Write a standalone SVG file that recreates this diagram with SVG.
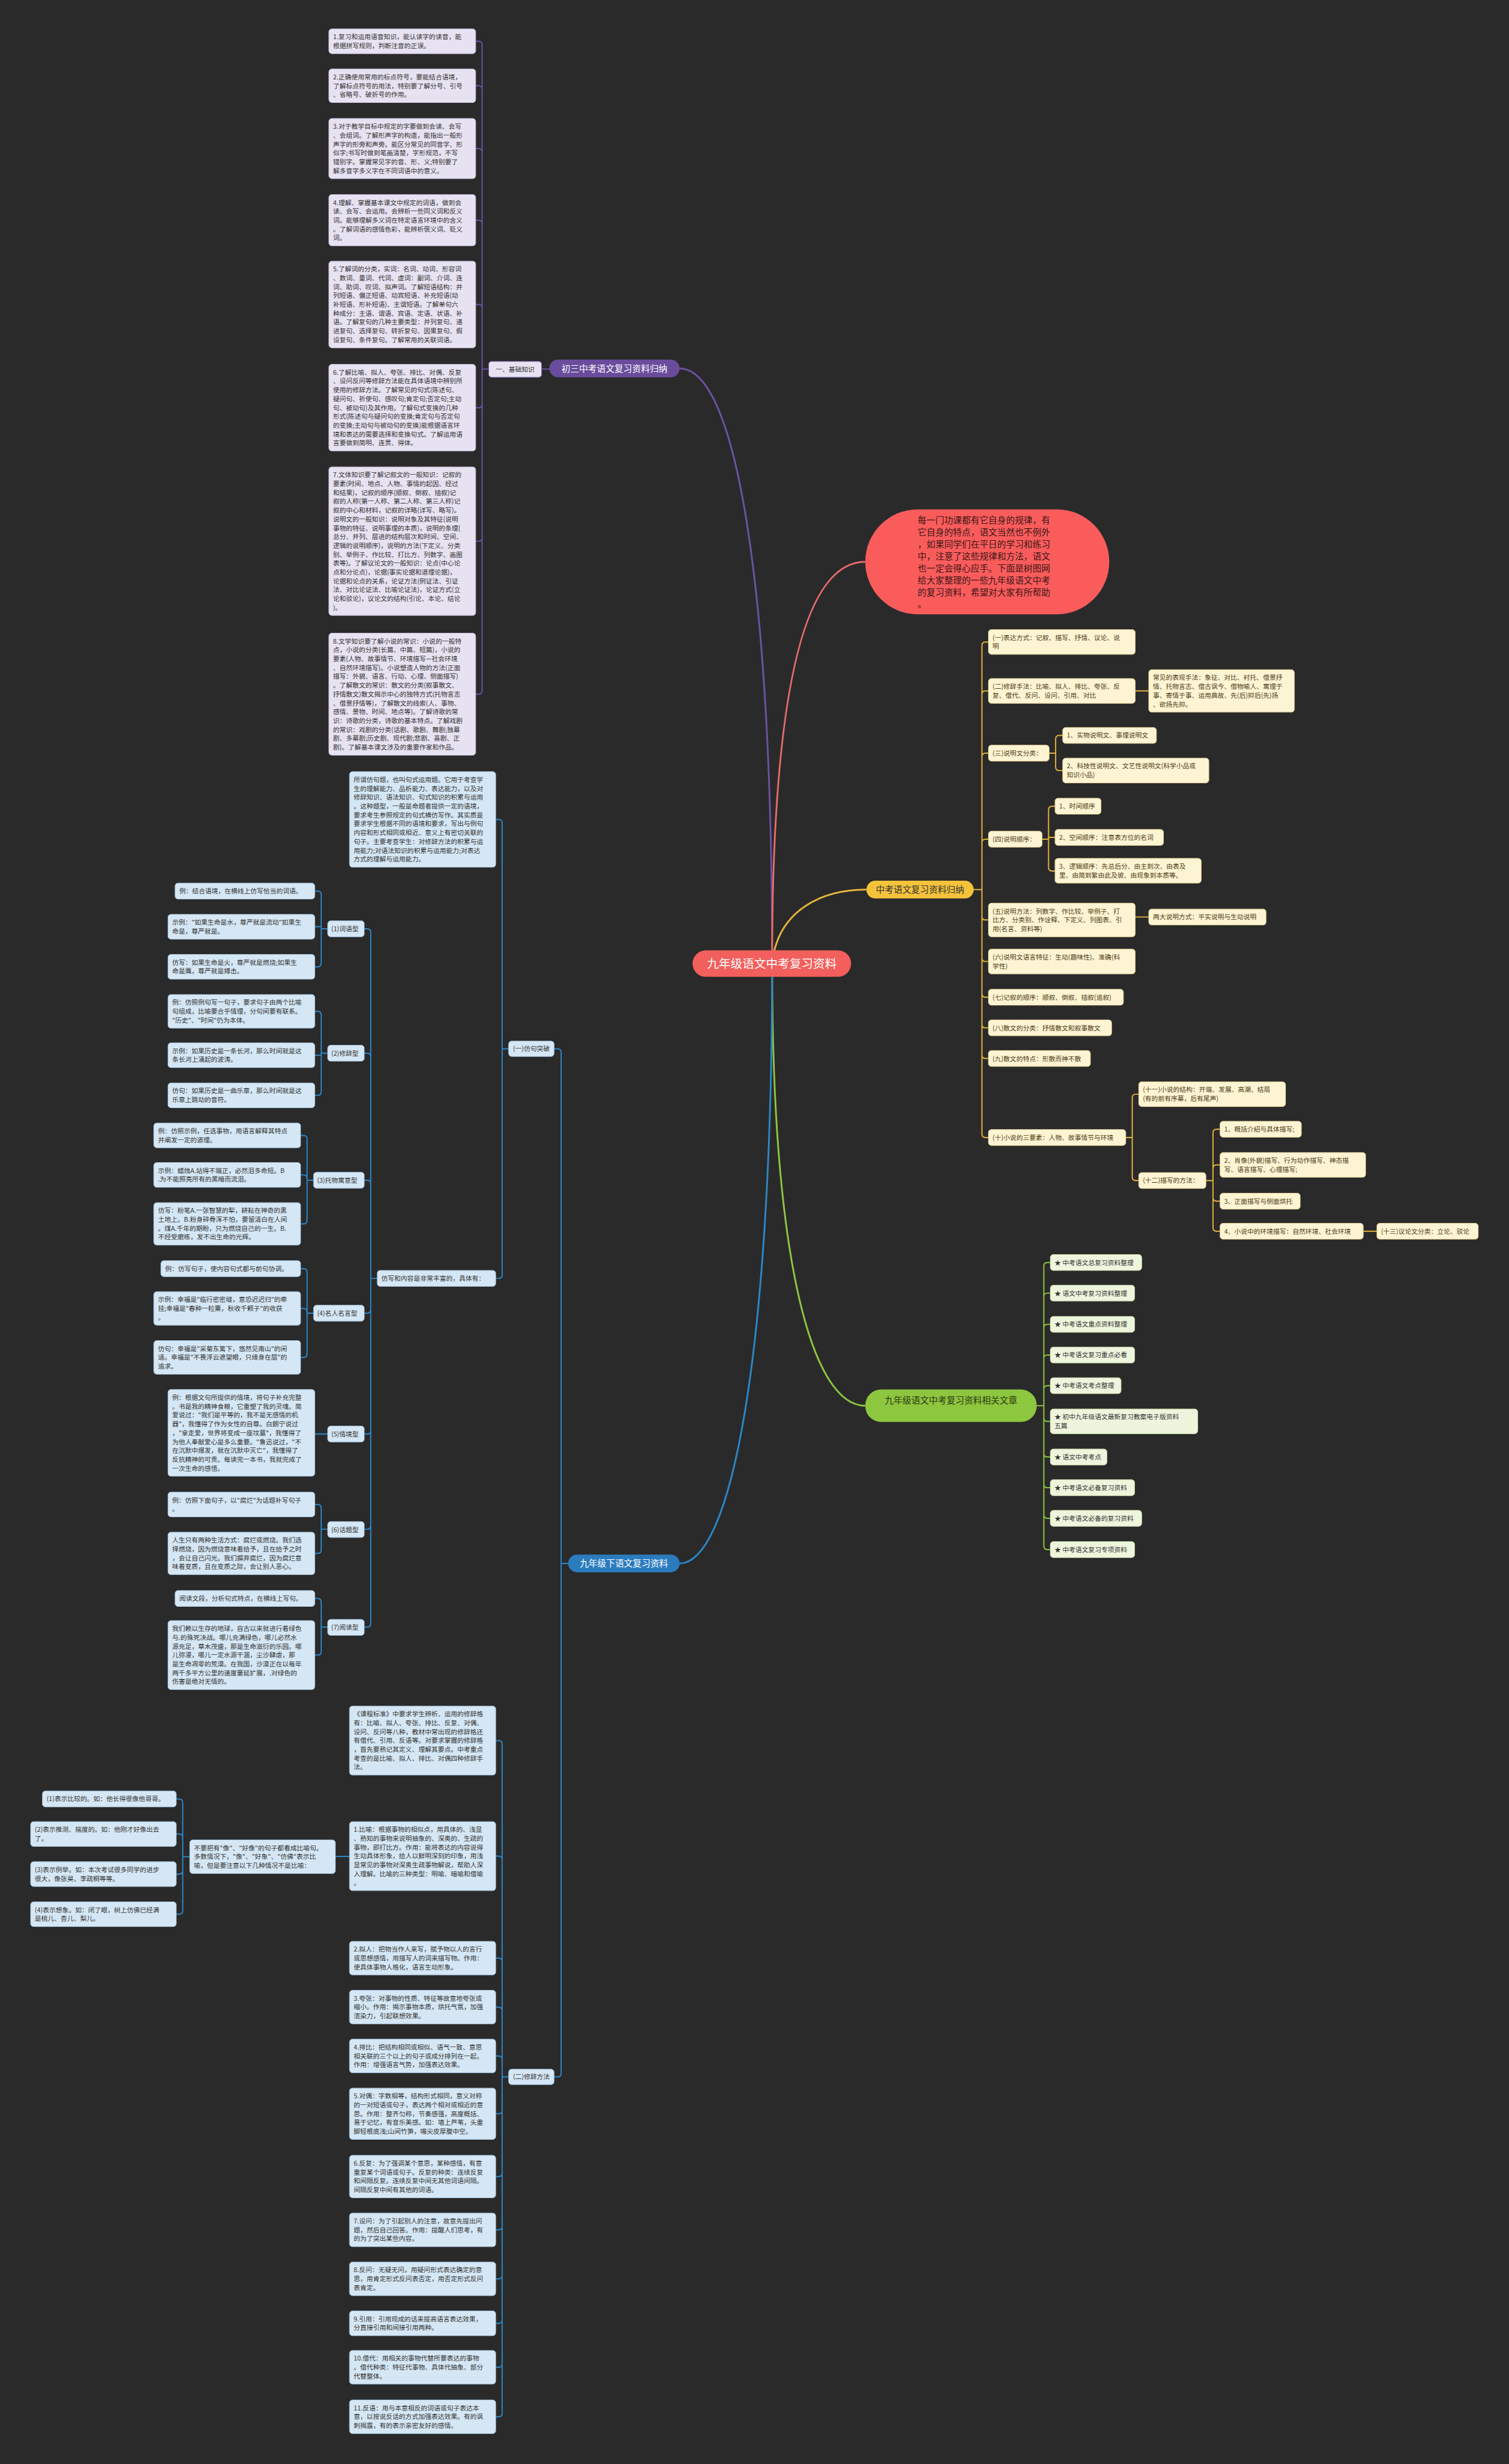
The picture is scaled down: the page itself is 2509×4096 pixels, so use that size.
<svg xmlns="http://www.w3.org/2000/svg" width="2509" height="4096" viewBox="0 0 2509 4096">
<style>
.t{font-family:"Noto Sans CJK SC","Noto Sans",sans-serif;font-size:11px;fill:#333}
.ty{font-family:"Noto Sans CJK SC","Noto Sans",sans-serif;font-size:11px;fill:#4d3d12}
.m{font-family:"Noto Sans CJK SC","Noto Sans",sans-serif;font-size:15px;text-anchor:middle}
.bp{fill:#e7e2f1;stroke:#c9bfe0;stroke-width:1}
.by{fill:#fdf4d3;stroke:#e6d59a;stroke-width:1}
.bg{fill:#eef5dd;stroke:#cfe0ad;stroke-width:1}
.bb{fill:#d5e7f5;stroke:#a6c8e4;stroke-width:1}
.c{fill:none;stroke-width:2;stroke-linecap:round}
.cp{stroke:#6b52a3}.cy{stroke:#e6b43c}.cg{stroke:#8cc63f}.cb{stroke:#2c87c8}.cr{stroke:#e86b6b}
.main{fill:none;stroke-width:3}
</style>
<rect width="2509" height="4096" fill="#2a2a2a"/>
<g transform="scale(0.98)">
<g id="connectors">
<path class="main cp" d="M1310,1634 C1310,1000 1250,625 1153,625"/>
<path class="main cr" d="M1310,1634 C1310,1150 1370,953 1468,953"/>
<path class="main cy" d="M1310,1634 C1320,1540 1400,1509 1470,1509"/>
<path class="main cg" d="M1310,1634 C1310,2150 1380,2384.5 1468,2384.5"/>
<path class="main cb" d="M1310,1634 C1310,2300 1240,2652 1153,2652"/>
<path class="c cp" d="M919,626 H932 M829,626 H818 M818,76 V1171.5 M818,76 Q818,70 812,70 H807 M818,151.5 Q818,145.5 812,145.5 H807 M818,258 Q818,252 812,252 H807 M818,379.5 Q818,373.5 812,373.5 H807 M818,522.5 Q818,516.5 812,516.5 H807 M818,685.5 Q818,691.5 812,691.5 H807 M818,912 Q818,918 812,918 H807 M818,1171.5 Q818,1177.5 812,1177.5 H807"/>
<path class="c cy" d="M1652,1509 H1666 M1666,1095 V1923.5 M1666,1095 Q1666,1089 1672,1089 H1677 M1666,1178 Q1666,1172 1672,1172 H1677 M1666,1283.5 Q1666,1277.5 1672,1277.5 H1677 M1666,1429.5 Q1666,1423.5 1672,1423.5 H1677 M1666,1554.5 Q1666,1560.5 1672,1560.5 H1677 M1666,1625 Q1666,1631 1672,1631 H1677 M1666,1685.5 Q1666,1691.5 1672,1691.5 H1677 M1666,1737.5 Q1666,1743.5 1672,1743.5 H1677 M1666,1789.5 Q1666,1795.5 1672,1795.5 H1677 M1666,1923.5 Q1666,1929.5 1672,1929.5 H1677"/>
<path class="c cy" d="M1926,1172 H1949 M1780,1277.5 H1791 M1791,1253.5 V1301 M1791,1253.5 Q1791,1247.5 1797,1247.5 H1803 M1791,1301 Q1791,1307 1797,1307 H1803 M1768,1423.5 H1779 M1779,1373.5 V1471.5 M1779,1373.5 Q1779,1367.5 1785,1367.5 H1790 M1779,1420.5 H1790 M1779,1471.5 Q1779,1477.5 1785,1477.5 H1790 M1926,1555.5 H1949 M1910,1929.5 H1921 M1921,1862 V1996.5 M1921,1862 Q1921,1856 1927,1856 H1932 M1921,1996.5 Q1921,2002.5 1927,2002.5 H1932 M2046,2002.5 H2058 M2058,1921.5 V2082.5 M2058,1921.5 Q2058,1915.5 2064,1915.5 H2070 M2058,1982 Q2058,1976 2064,1976 H2070 M2058,2031.5 Q2058,2037.5 2064,2037.5 H2070 M2058,2082.5 Q2058,2088.5 2064,2088.5 H2070 M2313,2088.5 H2336"/>
<path class="c cg" d="M1759,2384.5 H1771 M1771,2147.5 V2622.5 M1771,2147.5 Q1771,2141.5 1777,2141.5 H1782 M1771,2199.5 Q1771,2193.5 1777,2193.5 H1782 M1771,2252.5 Q1771,2246.5 1777,2246.5 H1782 M1771,2304.5 Q1771,2298.5 1777,2298.5 H1782 M1771,2356.5 Q1771,2350.5 1777,2350.5 H1782 M1771,2405 Q1771,2411 1777,2411 H1782 M1771,2465.5 Q1771,2471.5 1777,2471.5 H1782 M1771,2517.5 Q1771,2523.5 1777,2523.5 H1782 M1771,2569.5 Q1771,2575.5 1777,2575.5 H1782 M1771,2622.5 Q1771,2628.5 1777,2628.5 H1782"/>
<path class="c cb" d="M964,2652 H952 M952,1785 V3517 M952,1785 Q952,1779 946,1779 H940 M952,3517 Q952,3523 946,3523 H940"/>
<path class="c cb" d="M863,1779 H852 M852,1396 V2162.5 M852,1396 Q852,1390 846,1390 H841 M852,2162.5 Q852,2168.5 846,2168.5 H841"/>
<path class="c cb" d="M640,2168.5 H629 M629,1581.5 V2754 M629,1581.5 Q629,1575.5 623,1575.5 H618 M629,1792.5 Q629,1786.5 623,1786.5 H618 M629,2008 Q629,2002 623,2002 H618 M629,2221.5 Q629,2227.5 623,2227.5 H618 M629,2426.5 Q629,2432.5 623,2432.5 H618 M629,2588 Q629,2594 623,2594 H618 M629,2754 Q629,2760 623,2760 H618"/>
<path class="c cb" d="M556,1575.5 H545 M545,1517.5 V1634 M545,1517.5 Q545,1511.5 539,1511.5 H534 M545,1572 H534 M545,1634 Q545,1640 539,1640 H534 M556,1786.5 H545 M545,1721.5 V1852 M545,1721.5 Q545,1715.5 539,1715.5 H534 M545,1790 H534 M545,1852 Q545,1858 539,1858 H534"/>
<path class="c cb" d="M532,2002 H521 M521,1932 V2070 M521,1932 Q521,1926 515,1926 H510 M521,1999 Q521,1993 515,1993 H510 M521,2070 Q521,2076 515,2076 H510 M532,2227.5 H521 M521,2158 V2296.5 M521,2158 Q521,2152 515,2152 H510 M521,2225.5 Q521,2219.5 515,2219.5 H510 M521,2296.5 Q521,2302.5 515,2302.5 H510"/>
<path class="c cb" d="M556,2432.5 H534 M556,2594 H545 M545,2558 V2629 M545,2558 Q545,2552 539,2552 H534 M545,2629 Q545,2635 539,2635 H534 M556,2760 H545 M545,2717.5 V2801.5 M545,2717.5 Q545,2711.5 539,2711.5 H534 M545,2801.5 Q545,2807.5 539,2807.5 H534"/>
<path class="c cb" d="M863,3523 H852 M852,2958.5 V4093.5 M852,2958.5 Q852,2952.5 846,2952.5 H841 M852,3154.5 Q852,3148.5 846,3148.5 H841 M852,3327.5 Q852,3321.5 846,3321.5 H841 M852,3410.5 Q852,3404.5 846,3404.5 H841 M852,3493.5 Q852,3487.5 846,3487.5 H841 M852,3579.5 Q852,3585.5 846,3585.5 H841 M852,3686 Q852,3692 846,3692 H841 M852,3776.5 Q852,3782.5 846,3782.5 H841 M852,3859.5 Q852,3865.5 846,3865.5 H841 M852,3935 Q852,3941 846,3941 H841 M852,4009.5 Q852,4015.5 846,4015.5 H841 M852,4093.5 Q852,4099.5 846,4099.5 H841"/>
<path class="c cb" d="M593,3149 H569 M322,3149.5 H310 M310,3057.5 V3241 M310,3057.5 Q310,3051.5 304,3051.5 H299 M310,3117 Q310,3111 304,3111 H299 M310,3173 Q310,3179 304,3179 H299 M310,3241 Q310,3247 304,3247 H299"/>
</g>

<g id="root"><rect x="1175" y="1612" width="269" height="45" rx="22.5" fill="#f25f5c"/><text class="m" x="1309.5" y="1641.5" style="font-size:20px;fill:#fff">九年级语文中考复习资料</text></g>
<g id="intro"><rect x="1468" y="864" width="414" height="178" rx="89" fill="#fa5c5c"/><text x="1557" y="888" style="font-family:'Noto Sans CJK SC',sans-serif;font-size:15px;fill:#3a1616"><tspan x="1557">每一门功课都有它自身的规律，有</tspan><tspan x="1557" dy="20.3">它自身的特点，语文当然也不例外</tspan><tspan x="1557" dy="20.3">，如果同学们在平日的学习和练习</tspan><tspan x="1557" dy="20.3">中，注意了这些规律和方法，语文</tspan><tspan x="1557" dy="20.3">也一定会得心应手。下面是树图网</tspan><tspan x="1557" dy="20.3">给大家整理的一些九年级语文中考</tspan><tspan x="1557" dy="20.3">的复习资料，希望对大家有所帮助</tspan><tspan x="1557" dy="20.3">。</tspan></text></g>

<g id="purple-main"><rect x="932" y="610" width="221" height="30" rx="15" fill="#6a4c9c"/><text class="m" x="1042.5" y="630.5" style="fill:#fff">初三中考语文复习资料归纳</text></g>
<g id="p-basic"><rect class="bp" x="829" y="613" width="90" height="27" rx="5" style="stroke:#6b52a3"/><text class="t" x="874" y="630.5" text-anchor="middle">一、基础知识</text></g>
<g id="p1"><rect class="bp" x="558" y="49" width="249" height="42" rx="5"/><text class="t" x="565" y="66.5"><tspan x="565">1.复习和运用语音知识，能认读字的读音，能</tspan><tspan x="565" dy="15">根据拼写规则，判断注音的正误。</tspan></text></g>
<g id="p2"><rect class="bp" x="558" y="117" width="249" height="57" rx="5"/><text class="t" x="565" y="134.5"><tspan x="565">2.正确使用常用的标点符号，要能结合语境，</tspan><tspan x="565" dy="15">了解标点符号的用法，特别要了解分号、引号</tspan><tspan x="565" dy="15">、省略号、破折号的作用。</tspan></text></g>
<g id="p3"><rect class="bp" x="558" y="201" width="249" height="102" rx="5"/><text class="t" x="565" y="218.5"><tspan x="565">3.对于教学目标中规定的字要做到会读、会写</tspan><tspan x="565" dy="15">、会组词。了解形声字的构造，能指出一般形</tspan><tspan x="565" dy="15">声字的形旁和声旁。能区分常见的同音字、形</tspan><tspan x="565" dy="15">似字;书写时做到笔画清楚，字形规范，不写</tspan><tspan x="565" dy="15">错别字。掌握常见字的音、形、义;特别要了</tspan><tspan x="565" dy="15">解多音字多义字在不同词语中的意义。</tspan></text></g>
<g id="p4"><rect class="bp" x="558" y="330" width="249" height="87" rx="5"/><text class="t" x="565" y="347.5"><tspan x="565">4.理解、掌握基本课文中规定的词语，做到会</tspan><tspan x="565" dy="15">读、会写、会运用。会辨析一些同义词和反义</tspan><tspan x="565" dy="15">词。能够理解多义词在特定语言环境中的含义</tspan><tspan x="565" dy="15">。了解词语的感情色彩，能辨析褒义词、贬义</tspan><tspan x="565" dy="15">词。</tspan></text></g>
<g id="p5"><rect class="bp" x="558" y="443" width="249" height="147" rx="5"/><text class="t" x="565" y="460.5"><tspan x="565">5.了解词的分类，实词：名词、动词、形容词</tspan><tspan x="565" dy="15">、数词、量词、代词、虚词：副词、介词、连</tspan><tspan x="565" dy="15">词、助词、叹词、拟声词。了解短语结构：并</tspan><tspan x="565" dy="15">列短语、偏正短语、动宾短语、补充短语(动</tspan><tspan x="565" dy="15">补短语、形补短语)、主谓短语。了解单句六</tspan><tspan x="565" dy="15">种成分：主语、谓语、宾语、定语、状语、补</tspan><tspan x="565" dy="15">语。了解复句的几种主要类型：并列复句、递</tspan><tspan x="565" dy="15">进复句、选择复句、转折复句、因果复句、假</tspan><tspan x="565" dy="15">设复句、条件复句。了解常用的关联词语。</tspan></text></g>
<g id="p6"><rect class="bp" x="558" y="618" width="249" height="147" rx="5"/><text class="t" x="565" y="635.5"><tspan x="565">6.了解比喻、拟人、夸张、排比、对偶、反复</tspan><tspan x="565" dy="15">、设问反问等修辞方法能在具体语境中辨别所</tspan><tspan x="565" dy="15">使用的修辞方法。了解常见的句式(陈述句、</tspan><tspan x="565" dy="15">疑问句、祈使句、感叹句;肯定句;否定句;主动</tspan><tspan x="565" dy="15">句、被动句)及其作用。了解句式变换的几种</tspan><tspan x="565" dy="15">形式(陈述句与疑问句的变换;肯定句与否定句</tspan><tspan x="565" dy="15">的变换;主动句与被动句的变换)能根据语言环</tspan><tspan x="565" dy="15">境和表达的需要选择和变换句式。了解运用语</tspan><tspan x="565" dy="15">言要做到简明、连贯、得体。</tspan></text></g>
<g id="p7"><rect class="bp" x="558" y="792" width="249" height="252" rx="5"/><text class="t" x="565" y="809.5"><tspan x="565">7.文体知识要了解记叙文的一般知识：记叙的</tspan><tspan x="565" dy="15">要素(时间、地点、人物、事情的起因、经过</tspan><tspan x="565" dy="15">和结果)，记叙的顺序(顺叙、倒叙、插叙)记</tspan><tspan x="565" dy="15">叙的人称(第一人称、第二人称、第三人称)记</tspan><tspan x="565" dy="15">叙的中心和材料，记叙的详略(详写、略写)。</tspan><tspan x="565" dy="15">说明文的一般知识：说明对象及其特征(说明</tspan><tspan x="565" dy="15">事物的特征、说明事理的本质)，说明的条理(</tspan><tspan x="565" dy="15">总分、并列、层进的结构层次和时间、空间、</tspan><tspan x="565" dy="15">逻辑的说明顺序)，说明的方法(下定义、分类</tspan><tspan x="565" dy="15">别、举例子、作比较、打比方、列数字、画图</tspan><tspan x="565" dy="15">表等)。了解议论文的一般知识：论点(中心论</tspan><tspan x="565" dy="15">点和分论点)，论据(事实论据和道理论据)，</tspan><tspan x="565" dy="15">论据和论点的关系，论证方法(例证法、引证</tspan><tspan x="565" dy="15">法、对比论证法、比喻论证法)，论证方式(立</tspan><tspan x="565" dy="15">论和驳论)，议论文的结构(引论、本论、结论</tspan><tspan x="565" dy="15">)。</tspan></text></g>
<g id="p8"><rect class="bp" x="558" y="1074" width="249" height="207" rx="5"/><text class="t" x="565" y="1091.5"><tspan x="565">8.文学知识要了解小说的常识：小说的一般特</tspan><tspan x="565" dy="15">点，小说的分类(长篇、中篇、短篇)，小说的</tspan><tspan x="565" dy="15">要素(人物、故事情节、环境描写—社会环境</tspan><tspan x="565" dy="15">、自然环境描写)。小说塑造人物的方法(正面</tspan><tspan x="565" dy="15">描写：外貌、语言、行动、心理、侧面描写)</tspan><tspan x="565" dy="15">。了解散文的常识：散文的分类(叙事散文、</tspan><tspan x="565" dy="15">抒情散文)散文揭示中心的独特方式(托物言志</tspan><tspan x="565" dy="15">、借景抒情等)，了解散文的线索(人、事物、</tspan><tspan x="565" dy="15">感情、景物、时间、地点等)。了解诗歌的常</tspan><tspan x="565" dy="15">识：诗歌的分类，诗歌的基本特点。了解戏剧</tspan><tspan x="565" dy="15">的常识：戏剧的分类(话剧、歌剧、舞剧;独幕</tspan><tspan x="565" dy="15">剧、多幕剧;历史剧、现代剧;悲剧、喜剧、正</tspan><tspan x="565" dy="15">剧)。了解基本课文涉及的重要作家和作品。</tspan></text></g>

<g id="yellow-main"><rect x="1470" y="1494" width="182" height="30" rx="15" fill="#f5c33b"/><text class="m" x="1561" y="1514.5" style="fill:#333">中考语文复习资料归纳</text></g>
<g id="y1"><rect class="by" x="1677" y="1068" width="249" height="42" rx="5"/><text class="ty" x="1684" y="1085.5"><tspan x="1684">(一)表达方式：记叙、描写、抒情、议论、说</tspan><tspan x="1684" dy="15">明</tspan></text></g>
<g id="y2"><rect class="by" x="1677" y="1151" width="249" height="42" rx="5"/><text class="ty" x="1684" y="1168.5"><tspan x="1684">(二)修辞手法：比喻、拟人、排比、夸张、反</tspan><tspan x="1684" dy="15">复、借代、反问、设问、引用、对比</tspan></text></g>
<g id="y2a"><rect class="by" x="1949" y="1136" width="247" height="72" rx="5"/><text class="ty" x="1956" y="1153.5"><tspan x="1956">常见的表现手法：象征、对比、衬托、借景抒</tspan><tspan x="1956" dy="15">情、托物言志、借古讽今、借物喻人、寓理于</tspan><tspan x="1956" dy="15">事、寄情于事、运用典故、先(后)抑后(先)扬</tspan><tspan x="1956" dy="15">、欲扬先抑。</tspan></text></g>
<g id="y3"><rect class="by" x="1677" y="1264" width="103" height="27" rx="5"/><text class="ty" x="1684" y="1281.5">(三)说明文分类：</text></g>
<g id="y3a"><rect class="by" x="1803" y="1234" width="159" height="27" rx="5"/><text class="ty" x="1810" y="1251.5">1、实物说明文、事理说明文</text></g>
<g id="y3b"><rect class="by" x="1803" y="1286" width="248" height="42" rx="5"/><text class="ty" x="1810" y="1303.5"><tspan x="1810">2、科技性说明文、文艺性说明文(科学小品或</tspan><tspan x="1810" dy="15">知识小品)</tspan></text></g>
<g id="y4"><rect class="by" x="1677" y="1410" width="91" height="27" rx="5"/><text class="ty" x="1684" y="1427.5">(四)说明顺序：</text></g>
<g id="y4a"><rect class="by" x="1790" y="1354" width="78" height="27" rx="5"/><text class="ty" x="1797" y="1371.5">1、时间顺序</text></g>
<g id="y4b"><rect class="by" x="1790" y="1407" width="184" height="27" rx="5"/><text class="ty" x="1797" y="1424.5">2、空间顺序：注意表方位的名词</text></g>
<g id="y4c"><rect class="by" x="1790" y="1456" width="248" height="42" rx="5"/><text class="ty" x="1797" y="1473.5"><tspan x="1797">3、逻辑顺序：先总后分、由主到次、由表及</tspan><tspan x="1797" dy="15">里、由简到繁由此及彼、由现象到本质等。</tspan></text></g>
<g id="y5"><rect class="by" x="1677" y="1532" width="249" height="57" rx="5"/><text class="ty" x="1684" y="1549.5"><tspan x="1684">(五)说明方法：列数字、作比较、举例子、打</tspan><tspan x="1684" dy="15">比方、分类别、作诠释、下定义、列图表、引</tspan><tspan x="1684" dy="15">用(名言、资料等)</tspan></text></g>
<g id="y5a"><rect class="by" x="1949" y="1542" width="199" height="27" rx="5"/><text class="ty" x="1956" y="1559.5">两大说明方式：平实说明与生动说明</text></g>
<g id="y6"><rect class="by" x="1677" y="1610" width="249" height="42" rx="5"/><text class="ty" x="1684" y="1627.5"><tspan x="1684">(六)说明文语言特征：生动(趣味性)、准确(科</tspan><tspan x="1684" dy="15">学性)</tspan></text></g>
<g id="y7"><rect class="by" x="1677" y="1678" width="229" height="27" rx="5"/><text class="ty" x="1684" y="1695.5">(七)记叙的顺序：顺叙、倒叙、插叙(追叙)</text></g>
<g id="y8"><rect class="by" x="1677" y="1730" width="209" height="27" rx="5"/><text class="ty" x="1684" y="1747.5">(八)散文的分类：抒情散文和叙事散文</text></g>
<g id="y9"><rect class="by" x="1677" y="1782" width="173" height="27" rx="5"/><text class="ty" x="1684" y="1799.5">(九)散文的特点：形散而神不散</text></g>
<g id="y10"><rect class="by" x="1677" y="1916" width="233" height="27" rx="5"/><text class="ty" x="1684" y="1933.5">(十)小说的三要素：人物、故事情节与环境</text></g>
<g id="y11"><rect class="by" x="1932" y="1835" width="249" height="42" rx="5"/><text class="ty" x="1939" y="1852.5"><tspan x="1939">(十一)小说的结构：开端、发展、高潮、结局</tspan><tspan x="1939" dy="15">(有的前有序幕，后有尾声)</tspan></text></g>
<g id="y12"><rect class="by" x="1932" y="1989" width="114" height="27" rx="5"/><text class="ty" x="1939" y="2006.5">(十二)描写的方法：</text></g>
<g id="y12a"><rect class="by" x="2070" y="1902" width="138" height="27" rx="5"/><text class="ty" x="2077" y="1919.5">1、概括介绍与具体描写;</text></g>
<g id="y12b"><rect class="by" x="2070" y="1955" width="247" height="42" rx="5"/><text class="ty" x="2077" y="1972.5"><tspan x="2077">2、肖像(外貌)描写、行为动作描写、神态描</tspan><tspan x="2077" dy="15">写、语言描写、心理描写;</tspan></text></g>
<g id="y12c"><rect class="by" x="2070" y="2024" width="136" height="27" rx="5"/><text class="ty" x="2077" y="2041.5">3、正面描写与侧面烘托</text></g>
<g id="y12d"><rect class="by" x="2070" y="2075" width="243" height="27" rx="5"/><text class="ty" x="2077" y="2092.5">4、小说中的环境描写：自然环境、社会环境</text></g>
<g id="y13"><rect class="by" x="2336" y="2075" width="172" height="27" rx="5"/><text class="ty" x="2343" y="2092.5">(十三)议论文分类：立论、驳论</text></g>

<g id="green-main"><rect x="1468" y="2357" width="291" height="55" rx="27" fill="#8dc63f"/><text class="m" x="1613.5" y="2381" style="fill:#2b3a12">九年级语文中考复习资料相关文章</text></g>
<g id="g1"><rect class="bg" x="1782" y="2128" width="155" height="27" rx="5"/><text class="t" x="1789" y="2145.5">★ 中考语文总复习资料整理</text></g>
<g id="g2"><rect class="bg" x="1782" y="2180" width="143" height="27" rx="5"/><text class="t" x="1789" y="2197.5">★ 语文中考复习资料整理</text></g>
<g id="g3"><rect class="bg" x="1782" y="2233" width="143" height="27" rx="5"/><text class="t" x="1789" y="2250.5">★ 中考语文重点资料整理</text></g>
<g id="g4"><rect class="bg" x="1782" y="2285" width="143" height="27" rx="5"/><text class="t" x="1789" y="2302.5">★ 中考语文复习重点必看</text></g>
<g id="g5"><rect class="bg" x="1782" y="2337" width="120" height="27" rx="5"/><text class="t" x="1789" y="2354.5">★ 中考语文考点整理</text></g>
<g id="g6"><rect class="bg" x="1782" y="2390" width="250" height="42" rx="5"/><text class="t" x="1789" y="2407.5"><tspan x="1789">★ 初中九年级语文最新复习教案电子版资料</tspan><tspan x="1789" dy="15">五篇</tspan></text></g>
<g id="g7"><rect class="bg" x="1782" y="2458" width="96" height="27" rx="5"/><text class="t" x="1789" y="2475.5">★ 语文中考考点</text></g>
<g id="g8"><rect class="bg" x="1782" y="2510" width="143" height="27" rx="5"/><text class="t" x="1789" y="2527.5">★ 中考语文必备复习资料</text></g>
<g id="g9"><rect class="bg" x="1782" y="2562" width="155" height="27" rx="5"/><text class="t" x="1789" y="2579.5">★ 中考语文必备的复习资料</text></g>
<g id="g10"><rect class="bg" x="1782" y="2615" width="143" height="27" rx="5"/><text class="t" x="1789" y="2632.5">★ 中考语文复习专项资料</text></g>

<g id="blue-main"><rect x="964" y="2637" width="189" height="30" rx="15" fill="#2b7cbf"/><text class="m" x="1058.5" y="2657.5" style="fill:#fff">九年级下语文复习资料</text></g>
<g id="b1"><rect class="bb" x="863" y="1766" width="77" height="26" rx="5"/><text class="t" x="901.5" y="1783" text-anchor="middle">(一)仿句突破</text></g>
<g id="b2"><rect class="bb" x="863" y="3510" width="77" height="26" rx="5"/><text class="t" x="901.5" y="3527" text-anchor="middle">(二)修辞方法</text></g>
<g id="b-intro"><rect class="bb" x="593" y="1309" width="248" height="162" rx="5"/><text class="t" x="600" y="1326.5"><tspan x="600">所谓仿句题，也叫句式运用题。它用于考查学</tspan><tspan x="600" dy="15">生的理解能力、品析能力、表达能力，以及对</tspan><tspan x="600" dy="15">修辞知识、语法知识、句式知识的积累与运用</tspan><tspan x="600" dy="15">。这种题型，一般是命题者提供一定的语境，</tspan><tspan x="600" dy="15">要求考生参照规定的句式横仿写作。其实质是</tspan><tspan x="600" dy="15">要求学生根据不同的语境和要求，写出与例句</tspan><tspan x="600" dy="15">内容和形式相同或相近、意义上有密切关联的</tspan><tspan x="600" dy="15">句子。主要考查学生：对修辞方法的积累与运</tspan><tspan x="600" dy="15">用能力;对语法知识的积累与运用能力;对表达</tspan><tspan x="600" dy="15">方式的理解与运用能力。</tspan></text></g>
<g id="b-fx"><rect class="bb" x="640" y="2155" width="201" height="27" rx="5"/><text class="t" x="647" y="2172.5">仿写和内容是非常丰富的，具体有：</text></g>
<g id="t1"><rect class="bb" x="556" y="1562" width="62" height="27" rx="5"/><text class="t" x="562" y="1579.5">(1)词语型</text></g>
<g id="t2"><rect class="bb" x="556" y="1773" width="62" height="27" rx="5"/><text class="t" x="562" y="1790.5">(2)修辞型</text></g>
<g id="t3"><rect class="bb" x="532" y="1988.5" width="86" height="27" rx="5"/><text class="t" x="538" y="2006">(3)托物寓意型</text></g>
<g id="t4"><rect class="bb" x="532" y="2214" width="86" height="27" rx="5"/><text class="t" x="538" y="2231.5">(4)名人名言型</text></g>
<g id="t5"><rect class="bb" x="556" y="2419" width="62" height="27" rx="5"/><text class="t" x="562" y="2436.5">(5)情境型</text></g>
<g id="t6"><rect class="bb" x="556" y="2581" width="62" height="27" rx="5"/><text class="t" x="562" y="2598.5">(6)话题型</text></g>
<g id="t7"><rect class="bb" x="556" y="2747" width="62" height="27" rx="5"/><text class="t" x="562" y="2764.5">(7)阅读型</text></g>

<g id="c1a"><rect class="bb" x="297" y="1498" width="237" height="27" rx="5"/><text class="t" x="304" y="1515.5">例：结合语境，在横线上仿写恰当的词语。</text></g>
<g id="c1b"><rect class="bb" x="285" y="1551" width="249" height="42" rx="5"/><text class="t" x="292" y="1568.5"><tspan x="292">示例："如果生命是水，尊严就是流动"如果生</tspan><tspan x="292" dy="15">命是，尊严就是。</tspan></text></g>
<g id="c1c"><rect class="bb" x="285" y="1619" width="249" height="42" rx="5"/><text class="t" x="292" y="1636.5"><tspan x="292">仿写：如果生命是火，尊严就是燃烧;如果生</tspan><tspan x="292" dy="15">命是鹰，尊严就是搏击。</tspan></text></g>
<g id="c2a"><rect class="bb" x="285" y="1687" width="249" height="57" rx="5"/><text class="t" x="292" y="1704.5"><tspan x="292">例：仿照例句写一句子，要求句子由两个比喻</tspan><tspan x="292" dy="15">句组成，比喻要合乎情理，分句间要有联系。</tspan><tspan x="292" dy="15">"历史"、"时间"仍为本体。</tspan></text></g>
<g id="c2b"><rect class="bb" x="285" y="1769" width="249" height="42" rx="5"/><text class="t" x="292" y="1786.5"><tspan x="292">示例：如果历史是一条长河，那么时间就是这</tspan><tspan x="292" dy="15">条长河上涌起的波涛。</tspan></text></g>
<g id="c2c"><rect class="bb" x="285" y="1837" width="249" height="42" rx="5"/><text class="t" x="292" y="1854.5"><tspan x="292">仿句：如果历史是一曲乐章，那么时间就是这</tspan><tspan x="292" dy="15">乐章上跳动的音符。</tspan></text></g>
<g id="c3a"><rect class="bb" x="261" y="1905" width="249" height="42" rx="5"/><text class="t" x="268" y="1922.5"><tspan x="268">例：仿照示例，任选事物，用语言解释其特点</tspan><tspan x="268" dy="15">并阐发一定的道理。</tspan></text></g>
<g id="c3b"><rect class="bb" x="261" y="1972" width="249" height="42" rx="5"/><text class="t" x="268" y="1989.5"><tspan x="268">示例：蜡烛A.站得不端正，必然泪多命短。B</tspan><tspan x="268" dy="15">.为不能照亮所有的黑暗而流泪。</tspan></text></g>
<g id="c3c"><rect class="bb" x="261" y="2040" width="249" height="72" rx="5"/><text class="t" x="268" y="2057.5"><tspan x="268">仿写：粉笔A.一张智慧的犁，耕耘在神奇的黑</tspan><tspan x="268" dy="15">土地上。B.粉身碎骨浑不怕，要留清白在人间</tspan><tspan x="268" dy="15">。煤A.千年的期盼，只为燃烧自己的一生。B.</tspan><tspan x="268" dy="15">不经受磨练，发不出生命的光辉。</tspan></text></g>
<g id="c4a"><rect class="bb" x="273" y="2138.5" width="237" height="27" rx="5"/><text class="t" x="280" y="2156">例：仿写句子，使内容句式都与前句协调。</text></g>
<g id="c4b"><rect class="bb" x="261" y="2191" width="249" height="57" rx="5"/><text class="t" x="268" y="2208.5"><tspan x="268">示例：幸福是"临行密密缝，意恐迟迟归"的牵</tspan><tspan x="268" dy="15">挂;幸福是"春种一粒粟，秋收千颗子"的收获</tspan><tspan x="268" dy="15">。</tspan></text></g>
<g id="c4c"><rect class="bb" x="261" y="2274" width="249" height="57" rx="5"/><text class="t" x="268" y="2291.5"><tspan x="268">仿句：幸福是"采菊东篱下，悠然见南山"的闲</tspan><tspan x="268" dy="15">适。幸福是"不畏浮云遮望眼，只缘身在层"的</tspan><tspan x="268" dy="15">追求。</tspan></text></g>
<g id="c5a"><rect class="bb" x="285" y="2357" width="249" height="147" rx="5"/><text class="t" x="292" y="2374.5"><tspan x="292">例：根据文句所提供的情境，将句子补充完整</tspan><tspan x="292" dy="15">。书是我的精神食粮，它重塑了我的灵魂。简</tspan><tspan x="292" dy="15">爱说过："我们是平等的，我不是无感情的机</tspan><tspan x="292" dy="15">器"，我懂得了作为女性的自尊。白朗宁说过</tspan><tspan x="292" dy="15">，"拿走爱，世界将变成一座坟墓"，我懂得了</tspan><tspan x="292" dy="15">为他人奉献爱心是多么重要。"鲁迅说过，"不</tspan><tspan x="292" dy="15">在沉默中爆发，就在沉默中灭亡"，我懂得了</tspan><tspan x="292" dy="15">反抗精神的可贵。每读完一本书，我就完成了</tspan><tspan x="292" dy="15">一次生命的感悟。</tspan></text></g>
<g id="c6a"><rect class="bb" x="285" y="2531" width="249" height="42" rx="5"/><text class="t" x="292" y="2548.5"><tspan x="292">例：仿照下面句子，以"腐烂"为话题补写句子</tspan><tspan x="292" dy="15">。</tspan></text></g>
<g id="c6b"><rect class="bb" x="285" y="2599" width="249" height="72" rx="5"/><text class="t" x="292" y="2616.5"><tspan x="292">人生只有两种生活方式：腐烂或燃烧。我们选</tspan><tspan x="292" dy="15">择燃烧，因为燃烧意味着给予，且在给予之时</tspan><tspan x="292" dy="15">，会让自己闪光。我们摒弃腐烂，因为腐烂意</tspan><tspan x="292" dy="15">味着变质，且在变质之际，会让别人恶心。</tspan></text></g>
<g id="c7a"><rect class="bb" x="297" y="2698" width="237" height="27" rx="5"/><text class="t" x="304" y="2715.5">阅读文段，分析句式特点，在横线上写句。</text></g>
<g id="c7b"><rect class="bb" x="285" y="2749" width="249" height="117" rx="5"/><text class="t" x="292" y="2766.5"><tspan x="292">我们赖以生存的地球，自古以来就进行着绿色</tspan><tspan x="292" dy="15">与.的殊死决战。哪儿充满绿色，哪儿必然水</tspan><tspan x="292" dy="15">源充足，草木茂盛，那是生命滋衍的乐园。哪</tspan><tspan x="292" dy="15">儿弥漫，哪儿一定水源干涸，尘沙肆虐，那</tspan><tspan x="292" dy="15">是生命凋零的荒漠。在我国，沙漠正在以每年</tspan><tspan x="292" dy="15">两千多平方公里的速度蔓延扩展，.对绿色的</tspan><tspan x="292" dy="15">伤害是绝对无情的。</tspan></text></g>

<g id="r0"><rect class="bb" x="593" y="2894" width="248" height="117" rx="5"/><text class="t" x="600" y="2911.5"><tspan x="600">《课程标准》中要求学生辨析、运用的修辞格</tspan><tspan x="600" dy="15">有：比喻、拟人、夸张、排比、反复、对偶、</tspan><tspan x="600" dy="15">设问、反问等八种，教材中常出现的修辞格还</tspan><tspan x="600" dy="15">有借代、引用、反语等。对要求掌握的修辞格</tspan><tspan x="600" dy="15">，首先要熟记其定义、理解其要点。中考重点</tspan><tspan x="600" dy="15">考查的是比喻、拟人、排比、对偶四种修辞手</tspan><tspan x="600" dy="15">法。</tspan></text></g>
<g id="r1"><rect class="bb" x="593" y="3090" width="248" height="117" rx="5"/><text class="t" x="600" y="3107.5"><tspan x="600">1.比喻：根据事物的相似点，用具体的、浅显</tspan><tspan x="600" dy="15">、熟知的事物来说明抽象的、深奥的、生疏的</tspan><tspan x="600" dy="15">事物，即打比方。作用：能将表达的内容说得</tspan><tspan x="600" dy="15">生动具体形象，给人以鲜明深刻的印象，用浅</tspan><tspan x="600" dy="15">显常见的事物对深奥生疏事物解说，帮助人深</tspan><tspan x="600" dy="15">入理解。比喻的三种类型：明喻、暗喻和借喻</tspan><tspan x="600" dy="15">。</tspan></text></g>
<g id="r1x"><rect class="bb" x="322" y="3121" width="247" height="57" rx="5"/><text class="t" x="329" y="3138.5"><tspan x="329">不要把有"像"、"好像"的句子都看成比喻句。</tspan><tspan x="329" dy="15">多数情况下，"像"、"好象"、"仿佛"表示比</tspan><tspan x="329" dy="15">喻，但是要注意以下几种情况不是比喻：</tspan></text></g>
<g id="q1"><rect class="bb" x="72" y="3038" width="227" height="27" rx="5"/><text class="t" x="79" y="3055.5">(1)表示比较的。如：他长得很像他哥哥。</text></g>
<g id="q2"><rect class="bb" x="52" y="3090" width="247" height="42" rx="5"/><text class="t" x="59" y="3107.5"><tspan x="59">(2)表示推测、揣度的。如：他刚才好像出去</tspan><tspan x="59" dy="15">了。</tspan></text></g>
<g id="q3"><rect class="bb" x="52" y="3158" width="247" height="42" rx="5"/><text class="t" x="59" y="3175.5"><tspan x="59">(3)表示例举。如：本次考试很多同学的进步</tspan><tspan x="59" dy="15">很大，像张昊、李疏桐等等。</tspan></text></g>
<g id="q4"><rect class="bb" x="52" y="3226" width="247" height="42" rx="5"/><text class="t" x="59" y="3243.5"><tspan x="59">(4)表示想象。如：闭了眼，树上仿佛已经满</tspan><tspan x="59" dy="15">是桃儿、杏儿、梨儿。</tspan></text></g>
<g id="r2"><rect class="bb" x="593" y="3293" width="248" height="57" rx="5"/><text class="t" x="600" y="3310.5"><tspan x="600">2.拟人：把物当作人来写，赋予物以人的言行</tspan><tspan x="600" dy="15">或思想感情，用描写人的词来描写物。作用：</tspan><tspan x="600" dy="15">使具体事物人格化，语言生动形象。</tspan></text></g>
<g id="r3"><rect class="bb" x="593" y="3376" width="248" height="57" rx="5"/><text class="t" x="600" y="3393.5"><tspan x="600">3.夸张：对事物的性质、特征等故意地夸张或</tspan><tspan x="600" dy="15">缩小。作用：揭示事物本质，烘托气氛，加强</tspan><tspan x="600" dy="15">渲染力，引起联想效果。</tspan></text></g>
<g id="r4"><rect class="bb" x="593" y="3459" width="248" height="57" rx="5"/><text class="t" x="600" y="3476.5"><tspan x="600">4.排比：把结构相同或相似、语气一致、意思</tspan><tspan x="600" dy="15">相关联的三个以上的句子或成分排列在一起。</tspan><tspan x="600" dy="15">作用：增强语言气势，加强表达效果。</tspan></text></g>
<g id="r5"><rect class="bb" x="593" y="3542" width="248" height="87" rx="5"/><text class="t" x="600" y="3559.5"><tspan x="600">5.对偶：字数相等，结构形式相同，意义对称</tspan><tspan x="600" dy="15">的一对短语或句子，表达两个相对或相近的意</tspan><tspan x="600" dy="15">思。作用：整齐匀称，节奏感强，高度概括、</tspan><tspan x="600" dy="15">易于记忆，有音乐美感。如：墙上芦苇，头重</tspan><tspan x="600" dy="15">脚轻根底浅;山间竹笋，嘴尖皮厚腹中空。</tspan></text></g>
<g id="r6"><rect class="bb" x="593" y="3656" width="248" height="72" rx="5"/><text class="t" x="600" y="3673.5"><tspan x="600">6.反复：为了强调某个意思，某种感情，有意</tspan><tspan x="600" dy="15">重复某个词语或句子。反复的种类：连续反复</tspan><tspan x="600" dy="15">和间隔反复。连续反复中间无其他词语间隔。</tspan><tspan x="600" dy="15">间隔反复中间有其他的词语。</tspan></text></g>
<g id="r7"><rect class="bb" x="593" y="3754" width="248" height="57" rx="5"/><text class="t" x="600" y="3771.5"><tspan x="600">7.设问：为了引起别人的注意，故意先提出问</tspan><tspan x="600" dy="15">题，然后自己回答。作用：提醒人们思考，有</tspan><tspan x="600" dy="15">的为了突出某些内容。</tspan></text></g>
<g id="r8"><rect class="bb" x="593" y="3837" width="248" height="57" rx="5"/><text class="t" x="600" y="3854.5"><tspan x="600">8.反问：无疑无问，用疑问形式表达确定的意</tspan><tspan x="600" dy="15">思，用肯定形式反问表否定，用否定形式反问</tspan><tspan x="600" dy="15">表肯定。</tspan></text></g>
<g id="r9"><rect class="bb" x="593" y="3920" width="248" height="42" rx="5"/><text class="t" x="600" y="3937.5"><tspan x="600">9.引用：引用现成的话来提高语言表达效果，</tspan><tspan x="600" dy="15">分直接引用和间接引用两种。</tspan></text></g>
<g id="r10"><rect class="bb" x="593" y="3987" width="248" height="57" rx="5"/><text class="t" x="600" y="4004.5"><tspan x="600">10.借代：用相关的事物代替所要表达的事物</tspan><tspan x="600" dy="15">。借代种类：特征代事物、具体代抽象、部分</tspan><tspan x="600" dy="15">代替整体。</tspan></text></g>
<g id="r11"><rect class="bb" x="593" y="4071" width="248" height="57" rx="5"/><text class="t" x="600" y="4088.5"><tspan x="600">11.反语：用与本意相反的词语或句子表达本</tspan><tspan x="600" dy="15">意，以按说反话的方式加强表达效果。有的讽</tspan><tspan x="600" dy="15">刺揭露，有的表示亲密友好的感情。</tspan></text></g>
</g>
</svg>
